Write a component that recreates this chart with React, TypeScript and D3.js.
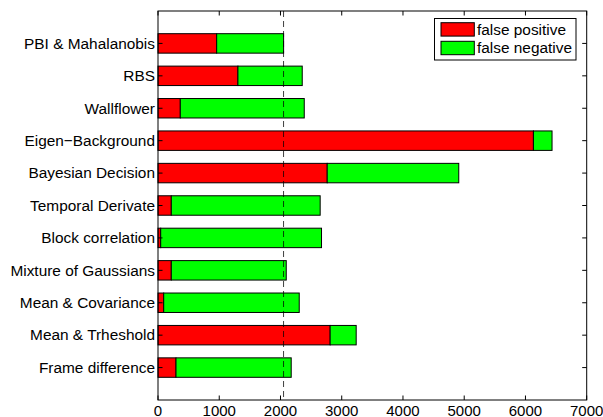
import React from "react";
import * as d3 from "d3";

const categories = [
  "Frame difference",
  "Mean & Trheshold",
  "Mean & Covariance",
  "Mixture of Gaussians",
  "Block correlation",
  "Temporal Derivate",
  "Bayesian Decision",
  "Eigen\u2212Background",
  "Wallflower",
  "RBS",
  "PBI & Mahalanobis",
];
const falsePositive = [294, 2811, 93, 217, 44, 217, 2763, 6130, 364, 1305, 958];
const falseNegative = [1881, 425, 2213, 1877, 2626, 2431, 2148, 304, 2024, 1050, 1093];
const xTicks = [0, 1000, 2000, 3000, 4000, 5000, 6000, 7000];
const referenceLine = 2050;
const seriesNames = ["false positive", "false negative"];
const seriesColors = ["#ff0000", "#00ff00"];

const W = 603;
const H = 417;
const FONT = "Liberation Sans, Arial, Helvetica, sans-serif";

export default function App() {
  const left = 158;
  const right = 586.7;
  const top = 11;
  const bottom = 400;
  const x = d3.scaleLinear().domain([0, 7000]).range([left, right]);
  const y = d3.scaleLinear().domain([0, categories.length + 1]).range([bottom, top]);
  const unit = Math.abs(y(1) - y(0));
  const barH = unit * 0.6;
  const tickLen = 4.5;

  return (
    <svg
      width={W}
      height={H}
      style={{ position: "fixed", left: 0, top: 0, background: "#fff" }}
      fontFamily={FONT}
    >
      <rect x={0} y={0} width={W} height={H} fill="#fff" />
      {categories.map((c, i) => {
        const cy = y(i + 1);
        const fp = falsePositive[i];
        const fn = falseNegative[i];
        return (
          <g key={c}>
            <rect
              x={x(0)}
              y={cy - barH / 2}
              width={x(fp) - x(0)}
              height={barH}
              fill={seriesColors[0]}
              stroke="#000"
              strokeWidth={1}
            />
            <rect
              x={x(fp)}
              y={cy - barH / 2}
              width={x(fp + fn) - x(fp)}
              height={barH}
              fill={seriesColors[1]}
              stroke="#000"
              strokeWidth={1}
            />
          </g>
        );
      })}
      <line
        x1={x(referenceLine)}
        x2={x(referenceLine)}
        y1={top}
        y2={bottom}
        stroke="#000"
        strokeWidth={1}
        strokeDasharray="6,4"
        opacity={0.75}
      />
      <rect x={left} y={top} width={right - left} height={bottom - top} fill="none" stroke="#000" strokeWidth={1} />
      {xTicks.map((t) => (
        <g key={t}>
          <line x1={x(t)} x2={x(t)} y1={bottom} y2={bottom - tickLen} stroke="#000" />
          <line x1={x(t)} x2={x(t)} y1={top} y2={top + tickLen} stroke="#000" />
          <text x={x(t)} y={416} fontSize={15} textAnchor="middle" fill="#000">
            {t}
          </text>
        </g>
      ))}
      {categories.map((c, i) => (
        <g key={c}>
          <line x1={left} x2={left + tickLen} y1={y(i + 1)} y2={y(i + 1)} stroke="#000" />
          <line x1={right} x2={right - tickLen} y1={y(i + 1)} y2={y(i + 1)} stroke="#000" />
          <text x={left - 3} y={y(i + 1) + 5.3} fontSize={15.4} textAnchor="end" fill="#000">
            {c}
          </text>
        </g>
      ))}
      <g>
        <rect x={434.5} y={18.5} width={141.5} height={41.5} fill="#fff" stroke="#000" strokeWidth={1} />
        {seriesNames.map((s, i) => (
          <g key={s}>
            <rect
              x={441}
              y={22.7 + i * 18.6}
              width={33.3}
              height={13.4}
              fill={seriesColors[i]}
              stroke="#000"
              strokeWidth={1}
            />
            <text x={477} y={34.6 + i * 18.6} fontSize={15.4} fill="#000">
              {s}
            </text>
          </g>
        ))}
      </g>
    </svg>
  );
}
